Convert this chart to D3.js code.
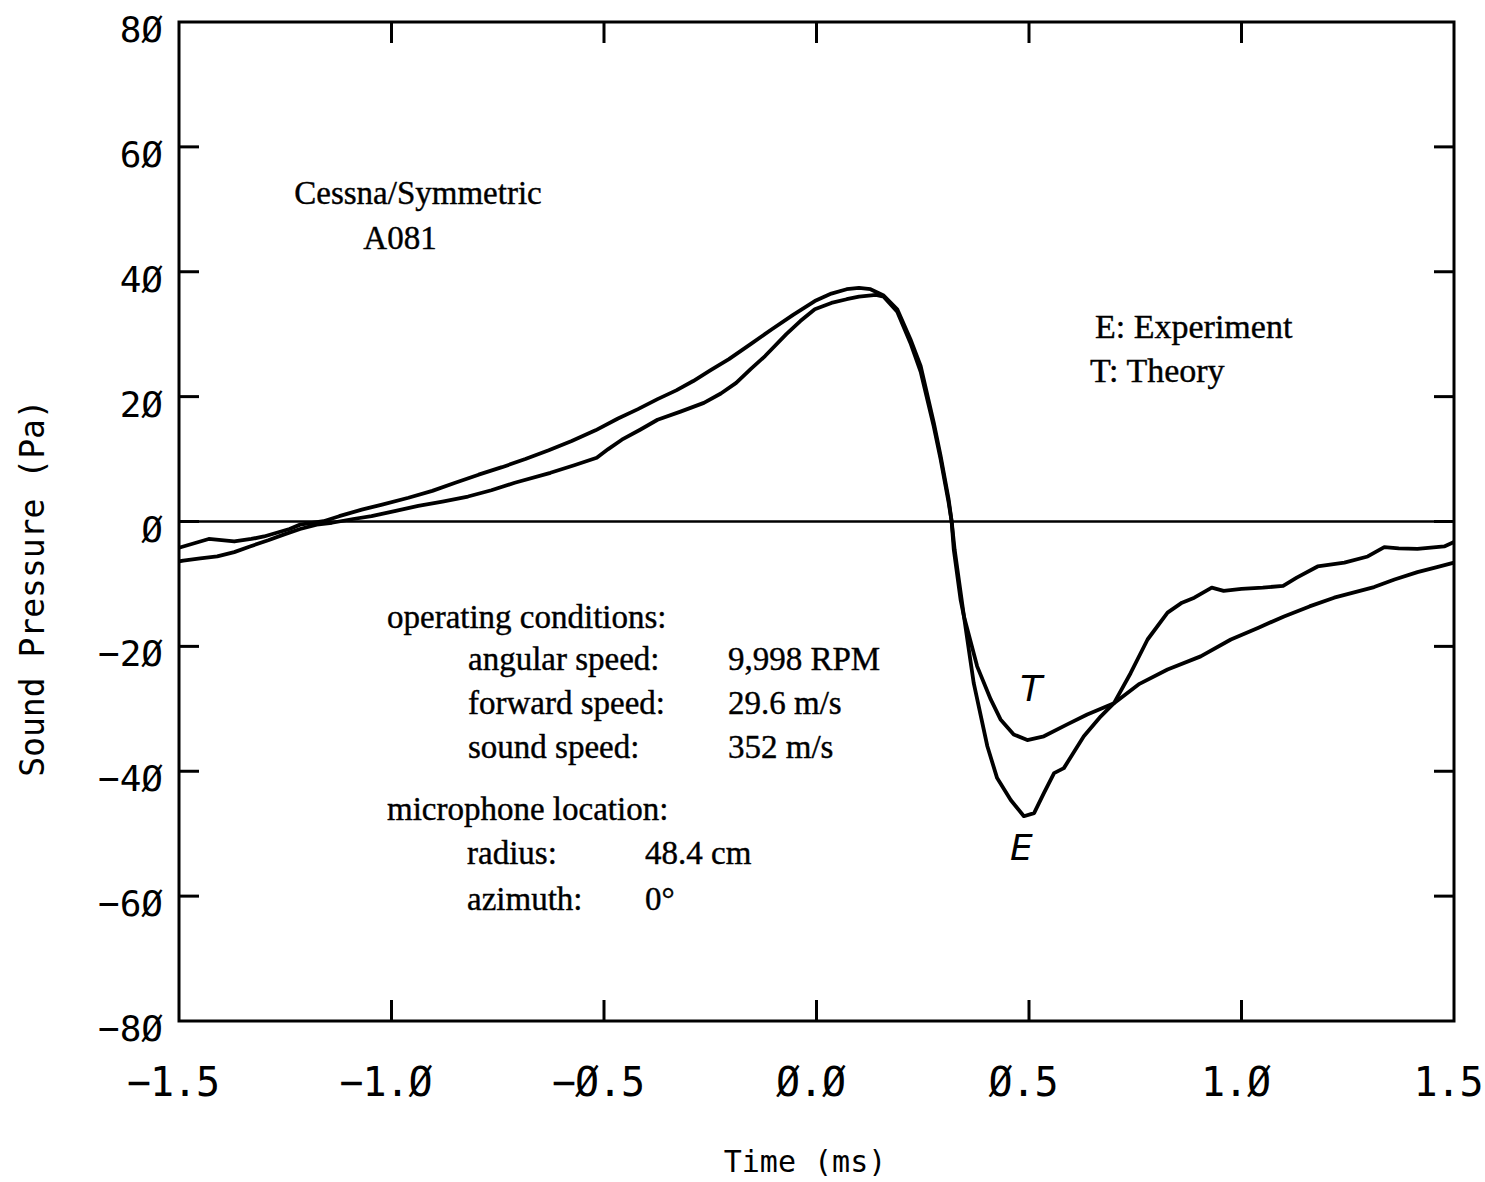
<!DOCTYPE html>
<html>
<head>
<meta charset="utf-8">
<script src="https://cdn.jsdelivr.net/npm/d3@7"></script>
<style>
  body { margin: 0; background: #fff; }
  svg { display: block; }
</style>
</head>
<body>
<div id="chart"></div>
<script>
// Experiment (E) trace: [time ms, pressure Pa]
var experiment = [
  [-1.5, -4.2], [-1.49, -4.0], [-1.46, -3.4], [-1.43, -2.8], [-1.40, -3.0], [-1.37, -3.2],
  [-1.33, -2.8], [-1.30, -2.4], [-1.27, -1.8], [-1.24, -1.2], [-1.215, -0.5], [-1.16, 0.05],
  [-1.123, 0.85], [-1.07, 1.9], [-1.022, 2.7], [-0.96, 3.8], [-0.904, 4.9], [-0.85, 6.2],
  [-0.795, 7.5], [-0.74, 8.7], [-0.685, 10.0], [-0.63, 11.4], [-0.576, 12.9], [-0.52, 14.6],
  [-0.467, 16.5], [-0.42, 18.0], [-0.374, 19.6], [-0.33, 21.0], [-0.29, 22.5], [-0.25, 24.2],
  [-0.206, 26.0], [-0.155, 28.4], [-0.105, 30.8], [-0.055, 33.1], [-0.004, 35.3], [0.035, 36.5],
  [0.071, 37.2], [0.10, 37.4], [0.127, 37.2], [0.158, 36.2], [0.19, 34.0], [0.221, 29.2],
  [0.245, 24.9], [0.276, 15.8], [0.292, 10.5], [0.311, 3.5], [0.318, 0], [0.323, -4.5],
  [0.339, -12.5], [0.347, -15.2], [0.37, -25.9], [0.402, -36.0], [0.425, -41.1], [0.457, -44.6],
  [0.488, -47.2], [0.512, -46.7], [0.535, -43.5], [0.559, -40.3], [0.582, -39.5], [0.605, -37.0],
  [0.629, -34.4], [0.669, -31.2], [0.70, -29.1], [0.739, -24.3], [0.779, -18.9], [0.826, -14.6],
  [0.86, -13.0], [0.889, -12.2], [0.93, -10.6], [0.958, -11.1], [1.00, -10.8], [1.05, -10.6],
  [1.098, -10.3], [1.13, -9.0], [1.179, -7.2], [1.242, -6.6], [1.297, -5.6], [1.336, -4.1],
  [1.37, -4.3], [1.414, -4.4], [1.477, -4.0], [1.50, -3.3]
];

// Theory (T) trace
var theory = [
  [-1.5, -6.4], [-1.49, -6.25], [-1.45, -5.9], [-1.41, -5.6], [-1.37, -4.9], [-1.333, -4.0],
  [-1.29, -3.0], [-1.254, -2.1], [-1.215, -1.2], [-1.176, -0.5], [-1.14, -0.2], [-1.09, 0.4],
  [-1.047, 0.85], [-0.99, 1.7], [-0.937, 2.5], [-0.88, 3.2], [-0.82, 4.0], [-0.765, 5.0],
  [-0.71, 6.2], [-0.626, 7.8], [-0.57, 9.0], [-0.517, 10.2], [-0.49, 11.6], [-0.458, 13.1],
  [-0.415, 14.7], [-0.374, 16.3], [-0.32, 17.6], [-0.265, 19.0], [-0.225, 20.5], [-0.189, 22.2],
  [-0.155, 24.4], [-0.121, 26.5], [-0.071, 30.0], [-0.038, 32.1], [-0.004, 34.0], [0.035, 35.0],
  [0.071, 35.6], [0.10, 36.0], [0.14, 36.3], [0.158, 36.0], [0.19, 33.6], [0.221, 28.6],
  [0.245, 24.0], [0.276, 15.2], [0.292, 10.0], [0.311, 3.0], [0.318, 0], [0.325, -4.5],
  [0.347, -15.2], [0.378, -23.2], [0.41, -28.5], [0.433, -31.7], [0.464, -34.1], [0.496, -35.0],
  [0.535, -34.4], [0.59, -32.5], [0.637, -30.9], [0.70, -29.1], [0.76, -26.0], [0.826, -23.7],
  [0.904, -21.6], [0.975, -18.9], [1.04, -17.0], [1.10, -15.2], [1.16, -13.6], [1.218, -12.2],
  [1.312, -10.5], [1.36, -9.3], [1.414, -8.1], [1.46, -7.3], [1.50, -6.6]
];

var xTicks = [-1.5, -1.0, -0.5, 0.0, 0.5, 1.0, 1.5];
var yTicks = [80, 60, 40, 20, 0, -20, -40, -60, -80];

var conditions = [
  ['angular speed:', '9,998 RPM'],
  ['forward speed:', '29.6 m/s'],
  ['sound speed:', '352 m/s']
];
var micLocation = [
  ['radius:', '48.4 cm'],
  ['azimuth:', '0\u00b0']
];

var W = 1485, H = 1182;
var margin = { left: 179, right: 31, top: 22, bottom: 161 };
var width = W - margin.left - margin.right;
var height = H - margin.top - margin.bottom;

var svg = d3.select('#chart').append('svg')
  .attr('width', W)
  .attr('height', H);

var g = svg.append('g')
  .attr('transform', 'translate(' + margin.left + ',' + margin.top + ')');

var x = d3.scaleLinear().domain([-1.5, 1.5]).range([0, width]);
var y = d3.scaleLinear().domain([-80, 80]).range([height, 0]);

// plotter style numbers use slashed zeros
function plotLabel(v, digits) {
  return v.toFixed(digits).replace('-', '\u2212').replace(/0/g, '\u00d8');
}

var mono = 'DejaVu Sans Mono, monospace';
var serif = 'Liberation Serif, Times New Roman, serif';

// frame
g.append('rect')
  .attr('width', width)
  .attr('height', height)
  .attr('fill', 'none')
  .attr('stroke', '#000')
  .attr('stroke-width', 3);

// inward ticks, top and bottom
var innerX = xTicks.slice(1, -1);
g.selectAll('.xtick-b').data(innerX).enter().append('line')
  .attr('x1', function(d) { return x(d); })
  .attr('x2', function(d) { return x(d); })
  .attr('y1', height).attr('y2', height - 21)
  .attr('stroke', '#000').attr('stroke-width', 3);
g.selectAll('.xtick-t').data(innerX).enter().append('line')
  .attr('x1', function(d) { return x(d); })
  .attr('x2', function(d) { return x(d); })
  .attr('y1', 0).attr('y2', 21)
  .attr('stroke', '#000').attr('stroke-width', 3);

var innerY = yTicks.slice(1, -1);
g.selectAll('.ytick-l').data(innerY).enter().append('line')
  .attr('x1', 0).attr('x2', 20)
  .attr('y1', function(d) { return y(d); })
  .attr('y2', function(d) { return y(d); })
  .attr('stroke', '#000').attr('stroke-width', 3);
g.selectAll('.ytick-r').data(innerY).enter().append('line')
  .attr('x1', width).attr('x2', width - 20)
  .attr('y1', function(d) { return y(d); })
  .attr('y2', function(d) { return y(d); })
  .attr('stroke', '#000').attr('stroke-width', 3);

// zero line
g.append('line')
  .attr('x1', 0).attr('x2', width)
  .attr('y1', y(0)).attr('y2', y(0))
  .attr('stroke', '#000').attr('stroke-width', 2.5);

// tick labels
g.selectAll('.ylab').data(yTicks).enter().append('text')
  .attr('x', -16)
  .attr('y', function(d) { return y(d) + 20; })
  .attr('text-anchor', 'end')
  .style('font-family', mono)
  .style('font-size', '36px')
  .text(function(d) { return plotLabel(d, 0); });

g.selectAll('.xlab').data(xTicks).enter().append('text')
  .attr('x', function(d) { return x(d) - 6; })
  .attr('y', height + 75)
  .attr('text-anchor', 'middle')
  .style('font-family', mono)
  .style('font-size', '40px')
  .style('letter-spacing', '-1px')
  .text(function(d) { return plotLabel(d, 1); });

// axis titles
svg.append('text')
  .attr('x', 805)
  .attr('y', 1172)
  .attr('text-anchor', 'middle')
  .style('font-family', mono)
  .style('font-size', '30px')
  .text('Time (ms)');

svg.append('text')
  .attr('transform', 'translate(44,588) rotate(-90)')
  .attr('text-anchor', 'middle')
  .style('font-family', mono)
  .style('font-size', '33px')
  .text('Sound Pressure (Pa)');

// curves
var line = d3.line()
  .x(function(d) { return x(d[0]); })
  .y(function(d) { return y(d[1]); });

[experiment, theory].forEach(function(series) {
  g.append('path')
    .datum(series)
    .attr('d', line)
    .attr('fill', 'none')
    .attr('stroke', '#000')
    .attr('stroke-width', 3.8)
    .attr('stroke-linejoin', 'round');
});

// E / T markers near the trough
g.append('text')
  .attr('x', x(0.505)).attr('y', y(-28.7))
  .attr('text-anchor', 'middle')
  .style('font-family', 'DejaVu Sans, sans-serif')
  .style('font-style', 'italic')
  .style('font-size', '36px')
  .text('T');
g.append('text')
  .attr('x', x(0.482)).attr('y', y(-54.2))
  .attr('text-anchor', 'middle')
  .style('font-family', 'DejaVu Sans, sans-serif')
  .style('font-style', 'italic')
  .style('font-size', '36px')
  .text('E');

// annotations
var note = svg.append('g')
  .style('font-family', serif)
  .style('font-size', '33px')
  .attr('stroke', '#000')
  .attr('stroke-width', 0.4);

note.append('text').attr('x', 418).attr('y', 204).attr('text-anchor', 'middle').text('Cessna/Symmetric');
note.append('text').attr('x', 400).attr('y', 249).attr('text-anchor', 'middle').text('A081');

note.append('text').attr('x', 1095).attr('y', 338).style('font-size', '34px').text('E: Experiment');
note.append('text').attr('x', 1090).attr('y', 382).style('font-size', '34px').text('T: Theory');

note.append('text').attr('x', 387).attr('y', 628).text('operating conditions:');
conditions.forEach(function(c, i) {
  note.append('text').attr('x', 468).attr('y', 670 + i * 44).text(c[0]);
  note.append('text').attr('x', 728).attr('y', 670 + i * 44).text(c[1]);
});

note.append('text').attr('x', 387).attr('y', 820).text('microphone location:');
micLocation.forEach(function(c, i) {
  note.append('text').attr('x', 467).attr('y', 864 + i * 46).text(c[0]);
  note.append('text').attr('x', 645).attr('y', 864 + i * 46).text(c[1]);
});
</script>
</body>
</html>
